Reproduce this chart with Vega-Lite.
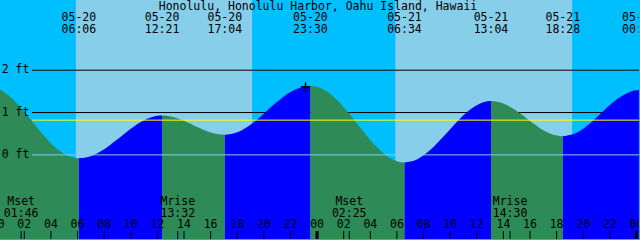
{
  "$schema": "https://vega.github.io/schema/vega-lite/v6.json",
  "width": 640,
  "height": 240,
  "padding": 0,
  "autosize": {"type": "fit", "contains": "padding"},
  "background": "#00BFFF",
  "config": {
    "view": {"stroke": null},
    "text": {"font": "DejaVu Sans Mono", "fontSize": 11.5, "color": "black"}
  },
  "datasets": {
    "sky": [
      {"start": 0.0, "end": 5.876, "kind": "night"},
      {"start": 5.876, "end": 19.13, "kind": "day"},
      {"start": 19.13, "end": 29.88, "kind": "night"},
      {"start": 29.88, "end": 43.18, "kind": "day"},
      {"start": 43.18, "end": 48.5, "kind": "night"}
    ],
    "tide": [
      {"t": 0, "ft": 1.58, "seg": 1, "phase": "ebb"},
      {"t": 1, "ft": 1.354, "seg": 1, "phase": "ebb"},
      {"t": 2, "ft": 1.015, "seg": 1, "phase": "ebb"},
      {"t": 3, "ft": 0.631, "seg": 1, "phase": "ebb"},
      {"t": 4, "ft": 0.276, "seg": 1, "phase": "ebb"},
      {"t": 5, "ft": 0.023, "seg": 1, "phase": "ebb"},
      {"t": 5.6, "ft": -0.058, "seg": 1, "phase": "ebb"},
      {"t": 6.1, "ft": -0.08, "seg": 1, "phase": "ebb"},
      {"t": 6.1, "ft": -0.08, "seg": 2, "phase": "flood"},
      {"t": 7, "ft": -0.03, "seg": 2, "phase": "flood"},
      {"t": 8, "ft": 0.133, "seg": 2, "phase": "flood"},
      {"t": 9, "ft": 0.368, "seg": 2, "phase": "flood"},
      {"t": 10, "ft": 0.617, "seg": 2, "phase": "flood"},
      {"t": 11, "ft": 0.818, "seg": 2, "phase": "flood"},
      {"t": 12, "ft": 0.922, "seg": 2, "phase": "flood"},
      {"t": 12.35, "ft": 0.93, "seg": 2, "phase": "flood"},
      {"t": 12.35, "ft": 0.93, "seg": 3, "phase": "ebb"},
      {"t": 13, "ft": 0.909, "seg": 3, "phase": "ebb"},
      {"t": 14, "ft": 0.806, "seg": 3, "phase": "ebb"},
      {"t": 15, "ft": 0.659, "seg": 3, "phase": "ebb"},
      {"t": 16, "ft": 0.53, "seg": 3, "phase": "ebb"},
      {"t": 16.6, "ft": 0.486, "seg": 3, "phase": "ebb"},
      {"t": 17.07, "ft": 0.475, "seg": 3, "phase": "ebb"},
      {"t": 17.07, "ft": 0.475, "seg": 4, "phase": "flood"},
      {"t": 18, "ft": 0.534, "seg": 4, "phase": "flood"},
      {"t": 19, "ft": 0.714, "seg": 4, "phase": "flood"},
      {"t": 20, "ft": 0.974, "seg": 4, "phase": "flood"},
      {"t": 21, "ft": 1.253, "seg": 4, "phase": "flood"},
      {"t": 22, "ft": 1.486, "seg": 4, "phase": "flood"},
      {"t": 23, "ft": 1.618, "seg": 4, "phase": "flood"},
      {"t": 23.5, "ft": 1.635, "seg": 4, "phase": "flood"},
      {"t": 23.5, "ft": 1.635, "seg": 5, "phase": "ebb"},
      {"t": 24.5, "ft": 1.547, "seg": 5, "phase": "ebb"},
      {"t": 25.5, "ft": 1.299, "seg": 5, "phase": "ebb"},
      {"t": 26.5, "ft": 0.941, "seg": 5, "phase": "ebb"},
      {"t": 27.5, "ft": 0.542, "seg": 5, "phase": "ebb"},
      {"t": 28.5, "ft": 0.178, "seg": 5, "phase": "ebb"},
      {"t": 29.5, "ft": -0.079, "seg": 5, "phase": "ebb"},
      {"t": 30.1, "ft": -0.16, "seg": 5, "phase": "ebb"},
      {"t": 30.57, "ft": -0.18, "seg": 5, "phase": "ebb"},
      {"t": 30.57, "ft": -0.18, "seg": 6, "phase": "flood"},
      {"t": 31.5, "ft": -0.108, "seg": 6, "phase": "flood"},
      {"t": 32.5, "ft": 0.114, "seg": 6, "phase": "flood"},
      {"t": 33.5, "ft": 0.433, "seg": 6, "phase": "flood"},
      {"t": 34.5, "ft": 0.779, "seg": 6, "phase": "flood"},
      {"t": 35.5, "ft": 1.071, "seg": 6, "phase": "flood"},
      {"t": 36.5, "ft": 1.243, "seg": 6, "phase": "flood"},
      {"t": 37.07, "ft": 1.27, "seg": 6, "phase": "flood"},
      {"t": 37.07, "ft": 1.27, "seg": 7, "phase": "ebb"},
      {"t": 38, "ft": 1.211, "seg": 7, "phase": "ebb"},
      {"t": 39, "ft": 1.035, "seg": 7, "phase": "ebb"},
      {"t": 40, "ft": 0.8, "seg": 7, "phase": "ebb"},
      {"t": 41, "ft": 0.583, "seg": 7, "phase": "ebb"},
      {"t": 42, "ft": 0.455, "seg": 7, "phase": "ebb"},
      {"t": 42.47, "ft": 0.44, "seg": 7, "phase": "ebb"},
      {"t": 42.47, "ft": 0.44, "seg": 8, "phase": "flood"},
      {"t": 43.5, "ft": 0.524, "seg": 8, "phase": "flood"},
      {"t": 44.5, "ft": 0.742, "seg": 8, "phase": "flood"},
      {"t": 45.5, "ft": 1.031, "seg": 8, "phase": "flood"},
      {"t": 46.5, "ft": 1.306, "seg": 8, "phase": "flood"},
      {"t": 47.5, "ft": 1.488, "seg": 8, "phase": "flood"},
      {"t": 48.22, "ft": 1.53, "seg": 8, "phase": "flood"},
      {"t": 48.5, "ft": 1.525, "seg": 8, "phase": "flood"}
    ],
    "levels": [
      {"ft": 2, "label": "2 ft"},
      {"ft": 1, "label": "1 ft"},
      {"ft": 0, "label": "0 ft"}
    ],
    "title": [
      {"t": 24.07, "text": "Honolulu, Honolulu Harbor, Oahu Island, Hawaii"}
    ],
    "events": [
      {"t": 6.1, "date": "05-20", "time": "06:06"},
      {"t": 12.35, "date": "05-20", "time": "12:21"},
      {"t": 17.067, "date": "05-20", "time": "17:04"},
      {"t": 23.5, "date": "05-20", "time": "23:30"},
      {"t": 30.567, "date": "05-21", "time": "06:34"},
      {"t": 37.067, "date": "05-21", "time": "13:04"},
      {"t": 42.467, "date": "05-21", "time": "18:28"},
      {"t": 48.217, "date": "05-22", "time": "00:13"}
    ],
    "moon": [
      {"t": 1.767, "name": "Mset", "time": "01:46"},
      {"t": 13.533, "name": "Mrise", "time": "13:32"},
      {"t": 26.417, "name": "Mset", "time": "02:25"},
      {"t": 38.5, "name": "Mrise", "time": "14:30"}
    ],
    "hours": [
      {"t": 0, "label": "00"}, {"t": 2, "label": "02"}, {"t": 4, "label": "04"},
      {"t": 6, "label": "06"}, {"t": 8, "label": "08"}, {"t": 10, "label": "10"},
      {"t": 12, "label": "12"}, {"t": 14, "label": "14"}, {"t": 16, "label": "16"},
      {"t": 18, "label": "18"}, {"t": 20, "label": "20"}, {"t": 22, "label": "22"},
      {"t": 24, "label": "00"}, {"t": 26, "label": "02"}, {"t": 28, "label": "04"},
      {"t": 30, "label": "06"}, {"t": 32, "label": "08"}, {"t": 34, "label": "10"},
      {"t": 36, "label": "12"}, {"t": 38, "label": "14"}, {"t": 40, "label": "16"},
      {"t": 42, "label": "18"}, {"t": 44, "label": "20"}, {"t": 46, "label": "22"},
      {"t": 48, "label": "00"}
    ],
    "now": [{"t": 23.13, "ft": 1.61}]
  },
  "layer": [
    {
      "data": {"name": "sky"},
      "mark": {"type": "rect", "clip": true},
      "encoding": {
        "x": {"field": "start", "type": "quantitative", "scale": {"domain": [0.175, 48.19], "nice": false, "zero": false}, "axis": null},
        "x2": {"field": "end"},
        "color": {"field": "kind", "type": "nominal", "scale": {"domain": ["night", "day", "ebb", "flood"], "range": ["#00BFFF", "#87CEEB", "#2E8B57", "#0000FF"]}, "legend": null}
      }
    },
    {
      "data": {"name": "levels"},
      "transform": [{"filter": "datum.ft > 0"}],
      "mark": {"type": "rule", "color": "black", "strokeWidth": 1},
      "encoding": {
        "x": {"datum": 2.58, "type": "quantitative"},
        "x2": {"datum": 48.19},
        "y": {"field": "ft", "type": "quantitative", "scale": {"domain": [-1.988, 3.659], "nice": false, "zero": false}, "axis": null}
      }
    },
    {
      "data": {"name": "tide"},
      "mark": {"type": "area", "interpolate": "monotone", "clip": true},
      "encoding": {
        "x": {"field": "t", "type": "quantitative"},
        "y": {"field": "ft", "type": "quantitative", "stack": null},
        "y2": {"datum": -2.2},
        "color": {"field": "phase", "type": "nominal", "legend": null},
        "detail": {"field": "seg"}
      }
    },
    {
      "data": {"name": "levels"},
      "transform": [{"filter": "datum.ft == 0"}],
      "mark": {"type": "rule", "color": "#87CEEB", "strokeWidth": 1},
      "encoding": {
        "x": {"datum": 2.58, "type": "quantitative"},
        "x2": {"datum": 48.19},
        "y": {"field": "ft", "type": "quantitative"}
      }
    },
    {
      "data": {"name": "levels"},
      "transform": [{"filter": "datum.ft == 0"}],
      "mark": {"type": "rule", "color": "#FFFF00", "strokeWidth": 1},
      "encoding": {
        "x": {"datum": 2.58, "type": "quantitative"},
        "x2": {"datum": 48.19},
        "y": {"datum": 0.82, "type": "quantitative"}
      }
    },
    {
      "data": {"name": "levels"},
      "mark": {"type": "text", "align": "left", "baseline": "middle"},
      "encoding": {
        "x": {"datum": 0.3, "type": "quantitative"},
        "y": {"field": "ft", "type": "quantitative"},
        "text": {"field": "label"}
      }
    },
    {
      "data": {"name": "title"},
      "mark": {"type": "text", "align": "center", "baseline": "alphabetic"},
      "encoding": {
        "x": {"field": "t", "type": "quantitative"},
        "y": {"datum": 3.424, "type": "quantitative"},
        "text": {"field": "text"}
      }
    },
    {
      "data": {"name": "events"},
      "mark": {"type": "text", "align": "center", "baseline": "alphabetic", "clip": true},
      "encoding": {
        "x": {"field": "t", "type": "quantitative"},
        "y": {"datum": 3.172, "type": "quantitative"},
        "text": {"field": "date"}
      }
    },
    {
      "data": {"name": "events"},
      "mark": {"type": "text", "align": "center", "baseline": "alphabetic", "clip": true},
      "encoding": {
        "x": {"field": "t", "type": "quantitative"},
        "y": {"datum": 2.875, "type": "quantitative"},
        "text": {"field": "time"}
      }
    },
    {
      "data": {"name": "moon"},
      "mark": {"type": "text", "align": "center", "baseline": "alphabetic"},
      "encoding": {
        "x": {"field": "t", "type": "quantitative"},
        "y": {"datum": -1.188, "type": "quantitative"},
        "text": {"field": "name"}
      }
    },
    {
      "data": {"name": "moon"},
      "mark": {"type": "text", "align": "center", "baseline": "alphabetic"},
      "encoding": {
        "x": {"field": "t", "type": "quantitative"},
        "y": {"datum": -1.464, "type": "quantitative"},
        "text": {"field": "time"}
      }
    },
    {
      "data": {"name": "hours"},
      "mark": {"type": "text", "align": "center", "baseline": "alphabetic", "clip": true},
      "encoding": {
        "x": {"field": "t", "type": "quantitative"},
        "y": {"datum": -1.722, "type": "quantitative"},
        "text": {"field": "label"}
      }
    },
    {
      "data": {"name": "hours"},
      "transform": [{"filter": "datum.label != '00'"}],
      "mark": {"type": "rule", "color": "black", "strokeWidth": 1},
      "encoding": {
        "x": {"field": "t", "type": "quantitative"},
        "y": {"datum": -1.8, "type": "quantitative"},
        "y2": {"datum": -1.988}
      }
    },
    {
      "data": {"name": "hours"},
      "transform": [{"filter": "datum.label == '00'"}],
      "mark": {"type": "rule", "color": "black", "strokeWidth": 3, "clip": true},
      "encoding": {
        "x": {"field": "t", "type": "quantitative"},
        "y": {"datum": -1.8, "type": "quantitative"},
        "y2": {"datum": -1.988}
      }
    },
    {
      "data": {"name": "moon"},
      "mark": {"type": "rule", "color": "black", "strokeWidth": 1},
      "encoding": {
        "x": {"field": "t", "type": "quantitative"},
        "y": {"datum": -1.8, "type": "quantitative"},
        "y2": {"datum": -1.988}
      }
    },
    {
      "data": {"name": "now"},
      "mark": {"type": "point", "shape": "M-1,0H1M0,-1V1", "filled": false, "color": "black", "strokeWidth": 1.5, "size": 81, "opacity": 1},
      "encoding": {
        "x": {"field": "t", "type": "quantitative"},
        "y": {"field": "ft", "type": "quantitative"}
      }
    }
  ]
}
